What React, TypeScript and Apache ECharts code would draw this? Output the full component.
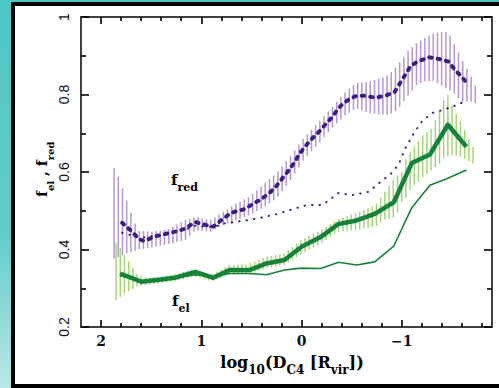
import React, { useEffect, useRef } from "react";
import * as echarts from "echarts";

// f_red: thick dotted curve (x = log10 distance, y = fraction)
const fRedX = [1.79, 1.69, 1.62, 1.57, 1.46, 1.36, 1.26, 1.16, 1.06, 0.95, 0.88, 0.78, 0.7, 0.57, 0.5, 0.39, 0.32, 0.25, 0.19, 0.12, 0.07, 0.02, -0.03, -0.1, -0.175, -0.235, -0.3, -0.37, -0.42, -0.49, -0.555, -0.62, -0.74, -0.84, -0.93, -0.98, -1.035, -1.085, -1.15, -1.27, -1.365, -1.465, -1.53, -1.6, -1.645];
const fRedY = [0.469, 0.446, 0.426, 0.422, 0.434, 0.44, 0.446, 0.454, 0.471, 0.463, 0.459, 0.48, 0.495, 0.504, 0.515, 0.532, 0.546, 0.564, 0.584, 0.607, 0.625, 0.647, 0.664, 0.685, 0.704, 0.722, 0.74, 0.765, 0.778, 0.79, 0.797, 0.797, 0.792, 0.797, 0.807, 0.828, 0.851, 0.872, 0.884, 0.896, 0.892, 0.885, 0.864, 0.845, 0.831];

// f_red error band: x, lower, upper
const fRedBandX = [1.87, 1.82, 1.78, 1.74, 1.7, 1.66, 1.62, 1.49, 1.33, 1.16, 1.06, 0.91, 0.78, 0.65, 0.52, 0.39, 0.25, 0.12, -0.03, -0.175, -0.3, -0.42, -0.54, -0.67, -0.84, -0.92, -0.985, -1.07, -1.15, -1.23, -1.32, -1.44, -1.48, -1.52, -1.6, -1.685, -1.73];
const fRedBandLo = [0.377, 0.381, 0.385, 0.39, 0.394, 0.397, 0.4, 0.405, 0.414, 0.424, 0.45, 0.446, 0.463, 0.476, 0.489, 0.506, 0.532, 0.575, 0.635, 0.674, 0.713, 0.743, 0.765, 0.752, 0.747, 0.752, 0.77, 0.8, 0.825, 0.834, 0.835, 0.816, 0.81, 0.803, 0.782, 0.782, 0.778];
const fRedBandHi = [0.61, 0.584, 0.553, 0.523, 0.493, 0.467, 0.448, 0.446, 0.452, 0.476, 0.484, 0.476, 0.497, 0.519, 0.536, 0.566, 0.597, 0.638, 0.69, 0.73, 0.765, 0.803, 0.829, 0.833, 0.846, 0.864, 0.885, 0.915, 0.933, 0.946, 0.958, 0.962, 0.953, 0.933, 0.89, 0.85, 0.825];

// comparison f_red: thin dotted curve
const fRedAltX = [1.79, 1.7, 1.6, 1.45, 1.3, 1.15, 1.05, 0.95, 0.85, 0.78, 0.52, 0.25, 0.09, -0.06, -0.21, -0.37, -0.5, -0.67, -0.79, -0.89, -0.97, -1.035, -1.12, -1.2, -1.3, -1.41, -1.53, -1.645];
const fRedAltY = [0.443, 0.437, 0.43, 0.436, 0.443, 0.452, 0.462, 0.458, 0.46, 0.467, 0.476, 0.491, 0.504, 0.515, 0.515, 0.546, 0.54, 0.549, 0.575, 0.595, 0.62, 0.661, 0.7, 0.73, 0.752, 0.76, 0.771, 0.784];

// f_el: thick solid curve and thin comparison curve (shared x nodes)
const fElX = [1.81, 1.6, 1.42, 1.25, 1.06, 0.88, 0.72, 0.52, 0.35, 0.17, 0.0, -0.19, -0.37, -0.55, -0.73, -0.92, -1.1, -1.28, -1.46, -1.645];
const fElY = [0.338, 0.317, 0.322, 0.328, 0.342, 0.327, 0.347, 0.347, 0.364, 0.373, 0.407, 0.432, 0.466, 0.475, 0.492, 0.522, 0.623, 0.645, 0.722, 0.665];
const fElAltY = [0.332, 0.318, 0.322, 0.327, 0.335, 0.33, 0.338, 0.338, 0.335, 0.347, 0.352, 0.351, 0.367, 0.36, 0.368, 0.409, 0.508, 0.566, 0.584, 0.605];

// f_el error band: x, lower, upper
const fElBandX = [1.85, 1.807, 1.764, 1.72, 1.68, 1.635, 1.55, 1.41, 1.245, 1.08, 0.9, 0.72, 0.535, 0.353, 0.171, 0.0, -0.19, -0.374, -0.555, -0.737, -0.82, -0.94, -1.0, -1.05, -1.1, -1.15, -1.215, -1.3, -1.38, -1.43, -1.465, -1.51, -1.58, -1.66, -1.71];
const fElBandLo = [0.269, 0.278, 0.286, 0.293, 0.299, 0.305, 0.308, 0.312, 0.318, 0.33, 0.318, 0.334, 0.336, 0.351, 0.36, 0.388, 0.415, 0.446, 0.45, 0.459, 0.476, 0.484, 0.523, 0.536, 0.562, 0.57, 0.588, 0.605, 0.622, 0.64, 0.64, 0.644, 0.64, 0.63, 0.622];
const fElBandHi = [0.416, 0.403, 0.385, 0.368, 0.351, 0.334, 0.328, 0.33, 0.337, 0.349, 0.335, 0.36, 0.362, 0.381, 0.39, 0.425, 0.45, 0.48, 0.495, 0.515, 0.545, 0.588, 0.6, 0.64, 0.657, 0.675, 0.696, 0.713, 0.76, 0.795, 0.8, 0.765, 0.734, 0.69, 0.665];

// axis ticks
const xLabelValues = [2, 1, 0, -1];
const xMinorValues = [1.8, 1.6, 1.4, 1.2, 0.8, 0.6, 0.4, 0.2, -0.2, -0.4, -0.6, -0.8, -1.2, -1.4, -1.6, -1.8];
const yLabelValues = [0.2, 0.4, 0.6, 0.8, 1];
const yMinorValues = [0.3, 0.5, 0.7, 0.9];

const X_MIN = -1.9;
const X_MAX = 2.2;
const Y_MIN = 0.2;
const Y_MAX = 1.0;

const PURPLE_DARK = "#3d1d87";
const PURPLE_HATCH = "#b597d6";
const GREEN_DARK = "#17823a";
const GREEN_HATCH = "#a3d57a";
const GREEN_LABEL = "#2a9646";
const INK = "#000000";

const zip = (xs: number[], ys: number[]) => xs.map((x, i) => [x, ys[i]]);
const band = (xs: number[], lo: number[], hi: number[]) => xs.map((x, i) => [x, lo[i], hi[i]]);

const HATCH_STEP = 4.2;

// Fill an error band with vertical hatch strokes, one segment between consecutive nodes per item
function hatchRenderer(rows: number[][], color: string) {
  return (params: any, api: any) => {
    const i = params.dataIndex;
    if (i >= rows.length - 1) return null;
    const a = rows[i];
    const b = rows[i + 1];
    const origin = api.coord([rows[0][0], rows[0][1]])[0];
    const aLo = api.coord([a[0], a[1]]);
    const aHi = api.coord([a[0], a[2]]);
    const bLo = api.coord([b[0], b[1]]);
    const bHi = api.coord([b[0], b[2]]);
    const x0 = aLo[0];
    const x1 = bLo[0];
    const last = i === rows.length - 2;
    const children: any[] = [];
    let k = Math.ceil((x0 - origin) / HATCH_STEP - 1e-6);
    for (; ; k++) {
      const px = origin + k * HATCH_STEP;
      if (px > x1 + (last ? 0.5 : -1e-6)) break;
      const t = (px - x0) / (x1 - x0);
      const yLo = aLo[1] + t * (bLo[1] - aLo[1]);
      const yHi = aHi[1] + t * (bHi[1] - aHi[1]);
      children.push({
        type: "line",
        shape: { x1: px, y1: yLo, x2: px, y2: yHi },
        style: { stroke: color, lineWidth: 1.5 },
      });
    }
    return { type: "group", children };
  };
}

const SERIF = "'DejaVu Serif', serif";

// Fresh option objects for every axis, so no two axes share a config object
const tick = (values: number[], len: number) => ({
  show: true,
  inside: true,
  length: len,
  lineStyle: { color: INK, width: 1.6 },
  customValues: values.slice(),
});

const frame = (visible: boolean) => ({
  show: visible,
  onZero: false,
  lineStyle: { color: INK, width: 1.5 },
});

function xAxisDef(position: string, visibleLine: boolean, values: number[], len: number, label: any) {
  return {
    type: "value",
    min: X_MIN,
    max: X_MAX,
    inverse: true,
    position,
    splitLine: { show: false },
    axisLine: frame(visibleLine),
    axisTick: tick(values, len),
    axisLabel: label,
  };
}

function yAxisDef(position: string, visibleLine: boolean, values: number[], len: number, label: any) {
  return {
    type: "value",
    min: Y_MIN,
    max: Y_MAX,
    position,
    splitLine: { show: false },
    axisLine: frame(visibleLine),
    axisTick: tick(values, len),
    axisLabel: label,
  };
}

export default function App() {
  const ref = useRef<HTMLDivElement>(null);

  useEffect(() => {
    if (!ref.current) return;
    const chart = echarts.init(ref.current, undefined, { renderer: "svg" });

    const subRich = (color: string, big: number, small: number) => ({
      m: { fontFamily: SERIF, fontWeight: "bold", fontSize: big, color, lineHeight: big + 6, verticalAlign: "top" },
      s: { fontFamily: SERIF, fontWeight: "bold", fontSize: small, color, lineHeight: small, verticalAlign: "bottom" },
    });

    chart.setOption({
      animation: false,
      grid: { left: 81, top: 17, right: 7, bottom: 61 },
      graphic: [
        {
          type: "text",
          z: 10,
          x: 171,
          y: 172,
          style: { text: "{m|f}{s|red}", rich: subRich(PURPLE_DARK, 15, 11) },
        },
        {
          type: "text",
          z: 10,
          x: 172,
          y: 293,
          style: { text: "{m|f}{s|el}", rich: subRich(GREEN_LABEL, 15, 11) },
        },
        {
          type: "text",
          z: 10,
          x: 35,
          y: 197,
          rotation: Math.PI / 2,
          style: { text: "{m|f}{s|el}{m| , f}{s|red}", rich: subRich("#111", 14, 10) },
        },
        {
          type: "text",
          z: 10,
          x: 292,
          y: 354,
          style: {
            text: "{m|log}{s|10}{m|(D}{s|C4}{m| [R}{s|vir}{m|])}",
            align: "center",
            rich: subRich("#111", 16, 12),
          },
        },
      ],
      xAxis: [
        xAxisDef("bottom", true, xLabelValues, 7, {
          customValues: xLabelValues.slice(),
          margin: 7,
          fontFamily: SERIF,
          fontWeight: "bold",
          fontSize: 14,
          color: "#111",
          formatter: (v: number) => (v < 0 ? "\u2212" + Math.abs(v) : String(v)),
        }),
        xAxisDef("bottom", false, xMinorValues, 4, { show: false }),
        xAxisDef("top", true, xLabelValues, 7, { show: false }),
        xAxisDef("top", false, xMinorValues, 4, { show: false }),
      ],
      yAxis: [
        yAxisDef("left", true, yLabelValues, 8, {
          customValues: yLabelValues.slice(),
          rotate: 90,
          margin: 10,
          fontFamily: "'Liberation Sans', sans-serif",
          fontSize: 14,
          color: "#111",
          formatter: (v: number) => (v === 1 ? "1" : v.toFixed(1)),
        }),
        yAxisDef("left", false, yMinorValues, 5, { show: false }),
        yAxisDef("right", true, yLabelValues, 8, { show: false }),
        yAxisDef("right", false, yMinorValues, 5, { show: false }),
      ],
      series: [
        {
          type: "custom",
          name: "f_red band",
          z: 1,
          renderItem: hatchRenderer(band(fRedBandX, fRedBandLo, fRedBandHi), PURPLE_HATCH),
          encode: { x: 0, y: [1, 2] },
          data: band(fRedBandX, fRedBandLo, fRedBandHi),
        },
        {
          type: "custom",
          name: "f_el band",
          z: 1,
          renderItem: hatchRenderer(band(fElBandX, fElBandLo, fElBandHi), GREEN_HATCH),
          encode: { x: 0, y: [1, 2] },
          data: band(fElBandX, fElBandLo, fElBandHi),
        },
        {
          type: "line",
          name: "f_red comparison",
          z: 2,
          symbol: "none",
          data: zip(fRedAltX, fRedAltY),
          lineStyle: { color: PURPLE_DARK, width: 2, type: [0.5, 7], cap: "round" },
        },
        {
          type: "line",
          name: "f_el comparison",
          z: 2,
          symbol: "none",
          data: zip(fElX, fElAltY),
          lineStyle: { color: GREEN_DARK, width: 1.6 },
        },
        {
          type: "line",
          name: "f_red",
          z: 4,
          symbol: "none",
          data: zip(fRedX, fRedY),
          lineStyle: { color: PURPLE_DARK, width: 4, type: [2.5, 6], cap: "round" },
        },
        {
          type: "line",
          name: "f_el",
          z: 4,
          symbol: "none",
          data: zip(fElX, fElY),
          lineStyle: { color: GREEN_DARK, width: 4.5, join: "round" },
        },
      ],
    });

    return () => chart.dispose();
  }, []);

  return (
    <div
      style={{
        position: "fixed",
        left: 0,
        top: 0,
        width: 499,
        height: 388,
        overflow: "hidden",
        background: "linear-gradient(180deg, #4fc6c6 0%, #62cbcb 60%, #b9e8e6 100%)",
      }}
    >
      <div
        style={{
          position: "absolute",
          left: 11,
          top: 2,
          width: 500,
          height: 386,
          boxSizing: "border-box",
          border: "4px solid #000",
          background: "#fff",
        }}
      />
      <div ref={ref} style={{ position: "absolute", left: 0, top: 0, width: 499, height: 388 }} />
    </div>
  );
}
